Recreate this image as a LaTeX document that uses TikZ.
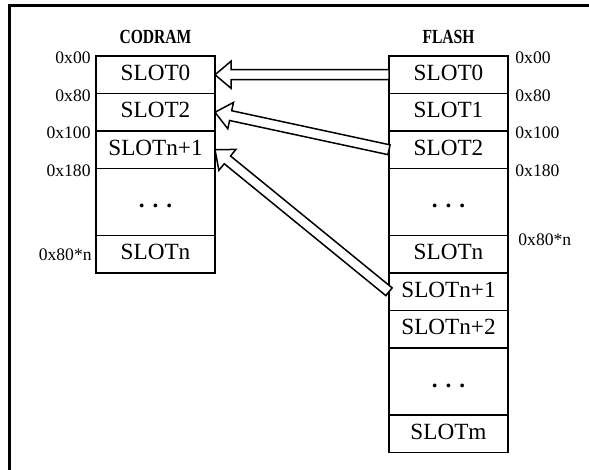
\documentclass[tikz,border=0pt]{standalone}
\usepackage{fontspec}
\setmainfont{Liberation Serif}
\newfontfamily\headfont{Liberation Serif}[FakeStretch=0.78]
\usetikzlibrary{calc,positioning}

\tikzset{
  slotBox/.style  = {rectangle, draw, line width=0.8pt, fill=white, outer sep=0pt,
                     minimum width=59.5pt, minimum height=18.75pt, inner sep=0pt,
                     text height=7.5pt, text depth=2pt,
                     font=\fontsize{11.6}{13}\selectfont},
  dotBox/.style   = {slotBox, minimum height=33.5pt},
  memHead/.style  = {inner sep=0pt, font=\headfont\bfseries\fontsize{10}{12}\selectfont},
  addrTag/.style  = {inner sep=0pt, font=\fontsize{8.8}{10}\selectfont},
  copyArrow/.style= {draw, line width=0.75pt, fill=white, line join=miter},
}
% hollow block arrow from #1 (tail) to #2 (tip)
\newcommand{\copyarrow}[2]{%
  \draw[copyArrow] (#2)
    -- ($(#2)!8pt!(#1)!6.75pt!90:(#1)$)
    -- ($(#2)!8pt!(#1)!2.5pt!90:(#1)$)
    -- ($(#1)!2.5pt!-90:(#2)$)
    -- ($(#1)!2.5pt!90:(#2)$)
    -- ($(#2)!8pt!(#1)!2.5pt!-90:(#1)$)
    -- ($(#2)!8pt!(#1)!6.75pt!-90:(#1)$) -- cycle;}
\newcommand{\slotdots}{\textbf{.\hspace{4pt}.\hspace{4pt}.}}

\begin{document}
\begin{tikzpicture}[x=0.5pt,y=-0.5pt]
  \useasboundingbox (0,0) rectangle (589,470);
  \draw[line width=1.5pt] (600,6) -| (9,480);

  % CODRAM column
  \node[slotBox] (c0) at (155.5,74.75) {SLOT0};
  \node[slotBox,below=0pt of c0] (c2) {SLOT2};
  \node[slotBox,below=0pt of c2] (c3) {SLOTn+1};
  \node[dotBox,below=0pt of c3] (cd) {\slotdots};
  \node[slotBox,below=0pt of cd] (cn) {SLOTn};
  \node[memHead,above=6pt of c0] (chead) {CODRAM};

  % FLASH column
  \node[slotBox] (f0) at (448.5,74.75) {SLOT0};
  \node[slotBox,below=0pt of f0] (f1) {SLOT1};
  \node[slotBox,below=0pt of f1] (f2) {SLOT2};
  \node[dotBox,below=0pt of f2] (fd) {\slotdots};
  \node[slotBox,below=0pt of fd] (fn) {SLOTn};
  \node[slotBox,below=0pt of fn] (fn1) {SLOTn+1};
  \node[slotBox,below=0pt of fn1] (fn2) {SLOTn+2};
  \node[dotBox,below=0pt of fn2] (fd2) {\slotdots};
  \node[slotBox,below=0pt of fd2] (fm) {SLOTm};
  \node[memHead,above=6pt of f0] (fhead) {FLASH};

  % addresses
  \foreach \n/\t in {c0/0x00,c2/0x80,c3/0x100,cd/0x180}
    {\node[addrTag,left=2.5pt of \n.north west,yshift=-1pt] (a\n) {\t};}
  \node[addrTag,left=2pt of cn.west] (acn) {0x80*n};
  \foreach \n/\t in {f0/0x00,f1/0x80,f2/0x100,fd/0x180}
    {\node[addrTag,right=3.5pt of \n.north east,yshift=-1pt] (a\n) {\t};}
  \node[addrTag,right=5pt of fn.north east,yshift=-2pt] (afn) {0x80*n};

  % copies
  \foreach \s/\t in {f0/c0,f2/c2,fn1/c3}
    {\copyarrow{\s.west}{\t.east}}
\end{tikzpicture}
\end{document}
